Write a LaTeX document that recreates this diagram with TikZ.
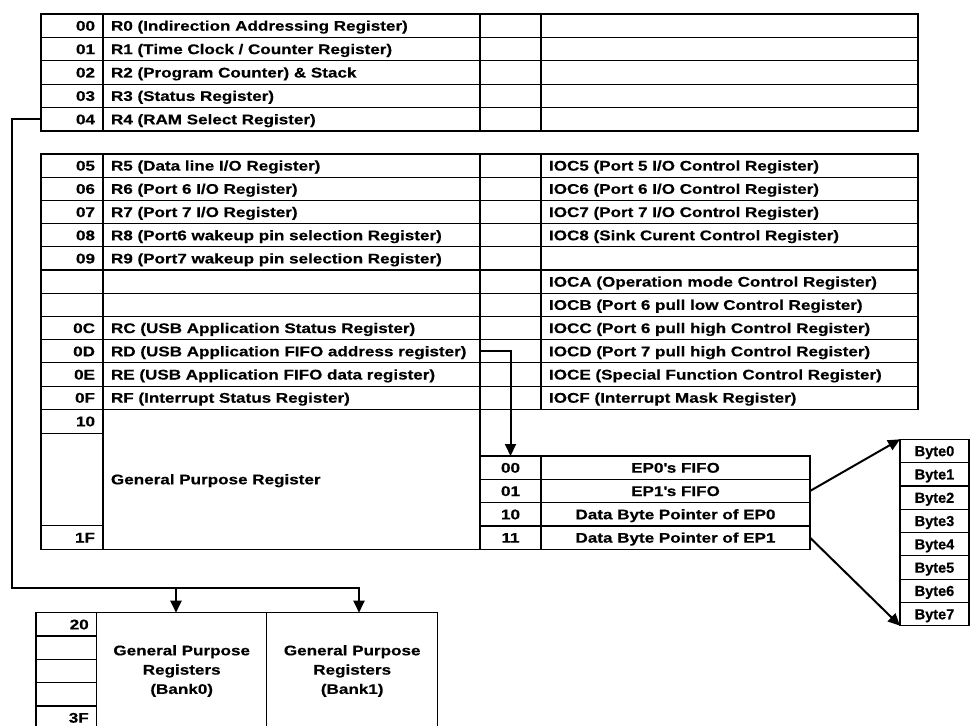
\documentclass[tikz,border=0pt]{standalone}
\usepackage{fontspec}
\setmainfont{Liberation Sans}[FakeStretch=1.22, FakeBold=0.4]
\newfontfamily\bytefont{Liberation Sans}[FakeBold=0.6]
\newcommand\apos{\XeTeXglyph\XeTeXcharglyph"27\relax}
\usetikzlibrary{arrows.meta}
\tikzset{
 cellbase/.style={draw, line width=1.2pt, inner xsep=8pt, inner ysep=0pt, outer sep=0pt,
   font=\fontsize{14}{19.3}\selectfont\bfseries},
 cellbox/.style={cellbase, text height=10pt, text depth=0pt},
 bytebox/.style={cellbase, font=\bytefont\fontsize{14.5}{17}\selectfont\bfseries, text height=10.4pt, text depth=0pt},
 bankbox/.style={cellbase},
 conn/.style={line width=2pt},
 arr/.style={conn, -{Triangle[length=12pt,width=11pt]}},
}
\newcommand\cell[8][cellbox]{%
 \pgfmathsetmacro\cellw{#5-#3}%
 \pgfmathsetmacro\cellh{#6-#4}%
 \pgfmathsetmacro\celltw{#5-#3-16}%
 \node[#1, minimum width=\cellw pt, minimum height=\cellh pt, text width=\celltw pt, align=#7, anchor=north west] (#2) at (#3,#4) {#8};}
\begin{document}
\begin{tikzpicture}[x=1pt,y=-1pt]
\useasboundingbox (0,0) rectangle (973,725);
% top table
\foreach \i/\ad/\nm in {0/00/{R0 (Indirection Addressing Register)},
  1/01/{R1 (Time Clock / Counter Register)},
  2/02/{R2 (Program Counter) \& Stack},
  3/03/{R3 (Status Register)},
  4/04/{R4 (RAM Select Register)}}{
 \pgfmathsetmacro\ya{14+23.4*\i}\pgfmathsetmacro\yb{\ya+23.4}
 \cell{ta\i}{41}{\ya}{103}{\yb}{right}{\ad}
 \cell{tn\i}{103}{\ya}{480}{\yb}{left}{\nm}
 \cell{tc\i}{480}{\ya}{541}{\yb}{left}{}
 \cell{td\i}{541}{\ya}{918}{\yb}{left}{}
}
% middle table
\foreach \i/\ad/\nm/\io in {0/05/{R5 (Data line I/O Register)}/{IOC5 (Port 5 I/O Control Register)},
  1/06/{R6 (Port 6 I/O Register)}/{IOC6 (Port 6 I/O Control Register)},
  2/07/{R7 (Port 7 I/O Register)}/{IOC7 (Port 7 I/O Control Register)},
  3/08/{R8 (Port6 wakeup pin selection Register)}/{IOC8 (Sink Curent Control Register)},
  4/09/{R9 (Port7 wakeup pin selection Register)}/{},
  5/{}/{}/{IOCA (Operation mode Control Register)},
  6/{}/{}/{IOCB (Port 6 pull low Control Register)},
  7/0C/{RC (USB Application Status Register)}/{IOCC (Port 6 pull high Control Register)},
  8/0D/{RD (USB Application FIFO address register)}/{IOCD (Port 7 pull high Control Register)},
  9/0E/{RE (USB Application FIFO data register)}/{IOCE (Special Function Control Register)},
  10/0F/{RF (Interrupt Status Register)}/{IOCF (Interrupt Mask Register)}}{
 \pgfmathsetmacro\ya{154+23.21*\i}\pgfmathsetmacro\yb{\ya+23.21}
 \cell{ma\i}{41}{\ya}{103}{\yb}{right}{\ad}
 \cell{mn\i}{103}{\ya}{480}{\yb}{left}{\nm}
 \cell{mc\i}{480}{\ya}{541}{\yb}{left}{}
 \cell{md\i}{541}{\ya}{918}{\yb}{left}{\io}
}
% general purpose register
\cell{g10}{41}{409.3}{103}{433.3}{right}{10}
\cell{gmid}{41}{433.3}{103}{525.7}{right}{}
\cell{g1F}{41}{525.7}{103}{549.3}{right}{1F}
\cell{gpr}{103}{409.3}{480}{549.3}{left}{General Purpose Register}
% EP table
\foreach \i/\ad/\nm in {0/00/{EP0\apos s FIFO},1/01/{EP1\apos s FIFO},2/10/{Data Byte Pointer of EP0},3/11/{Data Byte Pointer of EP1}}{
 \pgfmathsetmacro\ya{456+23.33*\i}\pgfmathsetmacro\yb{\ya+23.33}
 \cell{ea\i}{480}{\ya}{541}{\yb}{center}{\ad}
 \cell{en\i}{541}{\ya}{810}{\yb}{center}{\nm}
}
% bytes
\foreach \i in {0,...,7}{
 \pgfmathsetmacro\ya{439.3+23.3*\i}\pgfmathsetmacro\yb{\ya+23.3}
 \cell[bytebox]{b\i}{900}{\ya}{969}{\yb}{center}{Byte\i}
}
% bottom table
\foreach \i/\ad in {0/20,1/{},2/{},3/{},4/3F}{
 \pgfmathsetmacro\ya{612.7+23.33*\i}\pgfmathsetmacro\yb{\ya+23.33}
 \cell{ba\i}{36}{\ya}{96.7}{\yb}{right}{\ad}
}
\cell[bankbox]{bank0}{96.7}{612.7}{266.7}{729.3}{center}{General Purpose\\Registers\\(Bank0)}
\cell[bankbox]{bank1}{266.7}{612.7}{437.7}{729.3}{center}{General Purpose\\Registers\\(Bank1)}
% connectors
\coordinate (jl) at (12,587.7);
\coordinate (j0) at (176,587.7);
\coordinate (j1) at (359,587.7);
\draw[arr] (ta4.west) -| (jl) -| (j1 |- bank1.north);
\draw[arr] (j0) -- (j0 |- bank0.north);
\draw[arr] (mn8.east) -| (ea0.north);
\draw[arr] (en1.east) -- (b0.north west);
\draw[arr] (en3.east) -- (b7.south west);
\end{tikzpicture}
\end{document}
